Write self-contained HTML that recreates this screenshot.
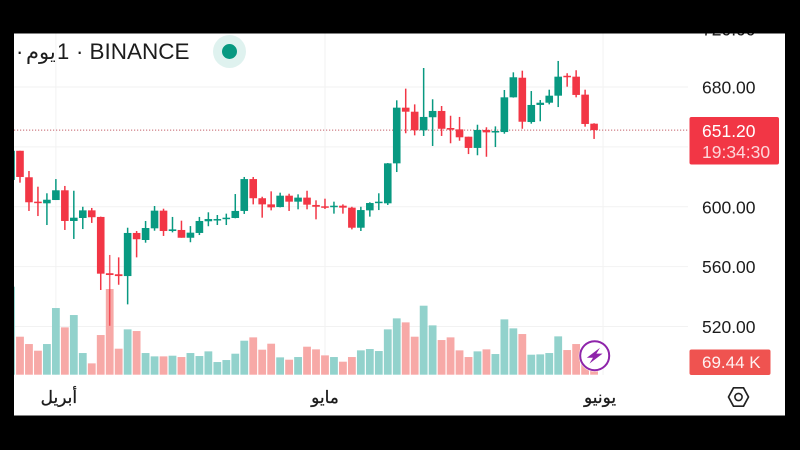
<!DOCTYPE html>
<html lang="ar">
<head>
<meta charset="utf-8">
<title>BINANCE candlestick chart</title>
<style>
  html, body { margin: 0; padding: 0; background: #000; width: 800px; height: 450px; overflow: hidden; }
  svg { display: block; position: absolute; left: 0; top: 0; filter: blur(0.35px); }
  text { font-family: "Liberation Sans", "DejaVu Sans", "Noto Sans CJK SC", sans-serif; }
</style>
</head>
<body>
<svg id="chart" width="800" height="450" viewBox="0 0 800 450" xmlns="http://www.w3.org/2000/svg">
  <defs>
    <clipPath id="screen-clip"><rect x="14" y="33.5" width="771" height="382"></rect></clipPath>
    <clipPath id="plot-clip"><rect x="14" y="33.5" width="675" height="342"></rect></clipPath>
  </defs>
  <rect x="0" y="0" width="800" height="450" fill="#000"></rect>
  <rect x="14" y="33.5" width="771" height="382" fill="#fff"></rect>
  <g clip-path="url(#screen-clip)">
    <g id="grid"></g>
    <g clip-path="url(#plot-clip)">
      <g id="volumes"></g>
      <g id="price-line"></g>
      <g id="candles"></g>
    </g>
    <g id="y-axis"></g>
    <g id="x-axis"></g>

    <g fill="#1c1c1c">
      <text x="16" y="59" font-size="22">·</text>
      <text x="26" y="59" font-size="21">يوم</text>
      <text x="57" y="59" font-size="22">1</text>
      <text x="76" y="59" font-size="22">·</text>
      <text x="89.5" y="59" font-size="22.5">BINANCE</text>
    </g>
    <circle cx="229.5" cy="51.5" r="16.5" fill="#dff2ef"></circle>
    <circle cx="229.5" cy="51.5" r="7.5" fill="#089981"></circle>

    <g>
      <rect x="689.5" y="117" width="89.5" height="47.5" rx="2" fill="#f23645"></rect>
      <text id="last-price-text" x="702" y="137" font-size="17.5" fill="#fff">651.20</text>
      <text x="702" y="158" font-size="17.5" fill="#fff" fill-opacity="0.8">19:34:30</text>
    </g>
    <g>
      <rect x="689.5" y="349.5" width="81" height="25.5" rx="2" fill="#ef5350"></rect>
      <text id="last-volume-text" x="702" y="368" font-size="17" fill="#fff" fill-opacity="0.92">69.44 K</text>
    </g>

    <g>
      <circle cx="594.7" cy="355.7" r="16" fill="#fff" fill-opacity="0.85"></circle>
      <circle cx="594.7" cy="355.7" r="14.5" fill="#fff" stroke="#8e24aa" stroke-width="2"></circle>
      <path d="M600 347.8 L586.8 357.8 L593 357.8 L589.4 363.6 L602.6 353.6 L596.4 353.6 Z" fill="#8e24aa"></path>
    </g>

    <g>
      <path d="M728.5 397 L733.5 387.8 L743.5 387.8 L748.5 397 L743.5 406.2 L733.5 406.2 Z" fill="none" stroke="#222" stroke-width="1.7" stroke-linejoin="round"></path>
      <circle cx="738.5" cy="397" r="3.6" fill="none" stroke="#222" stroke-width="1.6"></circle>
    </g>
  </g>
</svg>
<script>
const priceTicks = [720, 680, 640, 600, 560, 520];
const labeledTicks = ["720.00", "680.00", null, "600.00", "560.00", "520.00"];
const monthNames = ["أبريل", "مايو", "يونيو"];
const monthBars = [5, 35, 66];
const lastPrice = 651.2;

const opens = [617.9,637.4,619.7,603.4,602.3,604.5,611.0,590.5,592.5,597.6,593.2,555.6,554.9,553.7,582.5,577.8,585.6,597.4,583.8,584.5,579.3,582.5,590.3,591.0,591.8,592.5,597.2,618.5,605.7,601.6,599.8,607.4,603.4,606.1,601.2,600.3,599.8,600.7,599.4,586.0,597.6,602.5,602.3,629.0,666.2,663.5,651.1,659.8,664.0,652.6,651.7,646.8,639.3,651.3,649.7,649.9,673.1,686.2,656.6,668.0,669.5,674.2,687.5,686.9,674.9,655.5];
const highs = [637.4,637.4,623.9,613.4,609.0,618.5,613.9,610.7,600.0,599.2,593.4,567.8,566.2,586.0,583.8,590.5,600.5,598.7,593.2,590.7,587.1,593.2,596.3,594.5,595.4,608.5,619.9,619.9,606.7,610.3,609.4,608.7,608.3,610.7,604.3,605.4,603.4,601.6,600.0,600.0,603.0,609.0,629.2,671.1,678.9,668.4,692.7,671.8,667.3,660.8,660.0,646.8,654.8,653.1,653.7,678.0,689.8,690.9,677.3,671.3,678.2,697.4,689.2,691.2,678.2,655.8];
const lows = [617.9,616.1,597.2,593.8,587.8,604.5,584.5,578.5,585.1,589.2,544.4,520.5,547.9,534.8,566.2,576.0,584.0,580.5,582.9,579.3,576.3,581.1,587.0,587.8,587.8,592.3,595.2,601.6,592.7,597.6,599.6,597.2,598.3,598.3,591.6,598.5,595.4,595.4,584.9,583.8,593.4,597.8,601.2,623.2,649.1,647.7,647.3,640.6,647.3,642.4,644.1,635.2,634.4,633.4,639.9,648.8,672.9,652.1,655.5,657.1,668.4,666.6,680.2,673.1,653.5,645.3];
const closes = [637.4,619.9,603.0,602.7,604.7,611.0,590.5,592.7,597.6,593.0,555.3,554.4,553.7,582.5,578.3,585.8,597.4,583.8,584.9,579.3,582.7,590.5,591.8,591.8,592.7,597.2,618.5,605.7,601.6,599.6,607.4,603.4,606.1,601.4,600.0,599.4,600.7,599.4,586.0,597.8,602.5,603.4,629.0,666.2,663.5,651.1,660.0,664.0,652.1,651.5,646.4,639.3,651.3,649.7,650.6,673.1,686.5,656.8,668.0,669.5,674.2,686.9,686.5,674.7,655.3,651.2];
const volumes = [1056,456,368,288,368,800,568,716,260,136,476,1028,312,544,524,260,220,220,228,212,260,224,280,152,176,252,408,448,300,372,208,180,212,336,304,232,212,156,212,292,308,284,544,676,628,456,828,592,416,448,292,212,280,304,248,664,556,488,240,244,260,460,296,368,320,69.44];

const svgNS = "http://www.w3.org/2000/svg";
const UP = "#089981", DOWN = "#f23645", UP_VOL = "#92d2cc", DOWN_VOL = "#f7a9a7", GRID = "#f2f2f2";

function xScale(i) { return 11.03 + 8.97 * i; }
function yPrice(p) { return 87 + (680 - p) * 1.497; }
function yVolume(v) { return 374.7 - v / 12; }

function make(tag, parent) {
  const el = document.createElementNS(svgNS, tag);
  parent.appendChild(el);
  return el;
}
function setLine(el, x1, y1, x2, y2, color, width) {
  el.setAttribute("x1", x1); el.setAttribute("y1", y1);
  el.setAttribute("x2", x2); el.setAttribute("y2", y2);
  el.setAttribute("stroke", color); el.setAttribute("stroke-width", width);
}
function setRect(el, x, y, w, h, color) {
  el.setAttribute("x", x); el.setAttribute("y", y);
  el.setAttribute("width", w); el.setAttribute("height", h);
  el.setAttribute("fill", color);
}

const gridG = document.getElementById("grid");
const yAxisG = document.getElementById("y-axis");
const xAxisG = document.getElementById("x-axis");
const volG = document.getElementById("volumes");
const candleG = document.getElementById("candles");
const priceLineG = document.getElementById("price-line");

priceTicks.forEach(function (p, k) {
  const line = make("line", gridG);
  
  
  setLine(line, 14, yPrice(p), 688, yPrice(p), GRID, 1);
  if (labeledTicks[k] === null) return;
  const label = make("text", yAxisG);
  
  
  label.setAttribute("x", 702);
  label.setAttribute("y", Math.max(yPrice(p) + 6.5, 35.5));
  label.setAttribute("font-size", "17.5");
  label.setAttribute("fill", "#1c1c1c");
  label.textContent = labeledTicks[k];
});

monthBars.forEach(function (bar, k) {
  const line = make("line", gridG);
  
  
  setLine(line, xScale(bar), 33.5, xScale(bar), 375, GRID, 1);
  const label = make("text", xAxisG);
  
  
  label.setAttribute("x", xScale(bar) + (k === 0 ? 3 : k === 2 ? -3 : 0));
  label.setAttribute("y", 403);
  label.setAttribute("font-size", "17");
  label.setAttribute("text-anchor", "middle");
  label.setAttribute("fill", "#1c1c1c");
  label.setAttribute("stroke", "#1c1c1c");
  label.setAttribute("stroke-width", "0.3");
  label.textContent = monthNames[k];
});

volumes.forEach(function (v, i) {
  const bar = make("rect", volG);
  
  
  const up = closes[i] >= opens[i];
  setRect(bar, xScale(i) - 3.9, yVolume(v), 7.8, 374.7 - yVolume(v), up ? UP_VOL : DOWN_VOL);
});

const priceLine = make("line", priceLineG);


setLine(priceLine, 14, yPrice(lastPrice), 689, yPrice(lastPrice), "#c4606a", 1);
priceLine.setAttribute("stroke-dasharray", "1.2 1.8");

opens.forEach(function (o, i) {
  const c = closes[i];
  const color = c >= o ? UP : DOWN;
  const x = xScale(i);
  const wick = make("line", candleG);
  
  
  setLine(wick, x, yPrice(highs[i]), x, yPrice(lows[i]), color, 1.5);
  if (lows[i] < 534) wick.setAttribute("stroke-opacity", "0.8");
  const body = make("rect", candleG);
  
  
  const top = yPrice(Math.max(o, c));
  const height = Math.max(1.5, yPrice(Math.min(o, c)) - top);
  setRect(body, x - 3.8, top, 7.6, height, color);
});
</script>
</body>
</html>
